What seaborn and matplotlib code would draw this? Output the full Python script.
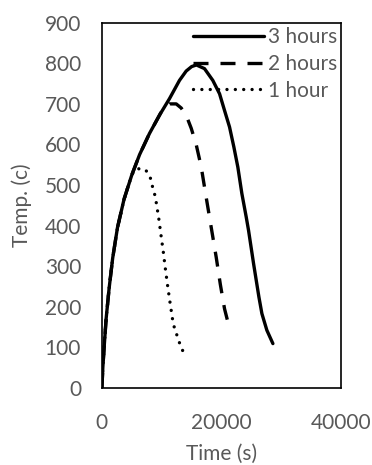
import matplotlib
matplotlib.use("Agg")
import matplotlib.pyplot as plt
import seaborn as sns
import pandas as pd

# Data
t_3h = [0, 150, 370, 700, 1200, 1800, 2600, 3700, 5000, 6300, 7950, 9620, 11300, 12970, 14090,
        15000, 15800, 17150, 18540, 19670, 20500, 21340, 22060, 22730, 23400, 24130, 24520,
        25360, 26250, 26750, 27580, 28590]
T_3h = [0, 50, 100, 170, 245, 320, 395, 465, 525, 575, 627, 672, 713, 758, 781,
        792, 796, 787, 758, 725, 684, 643, 594, 544, 479, 421, 388,
        306, 224, 183, 142, 109]

t_2h = [0, 150, 370, 700, 1200, 1800, 2600, 3700, 5000, 6300, 7950, 9620, 10180, 11300, 12420,
        13250, 14090, 14930, 15760, 16600, 17430, 18270, 19110, 19800, 20500, 21340]
T_2h = [0, 50, 100, 170, 245, 320, 395, 465, 525, 575, 627, 672, 688, 700, 700,
        690, 672, 640, 600, 545, 470, 396, 322, 255, 195, 146]

t_1h = [0, 150, 370, 700, 1200, 1800, 2600, 3700, 5000, 5500, 6160, 7280, 8060, 8400, 8790,
        9070, 9510, 9900, 10290, 10630, 11010, 11410, 11850, 12180, 12690, 13140, 13690]
T_1h = [0, 50, 100, 170, 245, 320, 395, 465, 525, 538, 540, 538, 520, 499, 479,
        458, 417, 374, 332, 291, 249, 208, 165, 144, 124, 103, 86]

labels = ["3 hours", "2 hours", "1 hour"]
x_ticks = [0, 20000, 40000]
y_ticks = [0, 100, 200, 300, 400, 500, 600, 700, 800, 900]

sns.set_theme(style="white")
plt.rcParams["font.family"] = ["Lato", "DejaVu Sans"]

fig = plt.figure(figsize=(3.72, 4.65), dpi=100)
ax = fig.add_axes([0.274, 0.166, 0.643, 0.785])

gray = "#595959"
series = [
    (t_3h, T_3h, "-", "butt"),
    (t_2h, T_2h, (0, (4.5, 3.6)), "butt"),
    (t_1h, T_1h, (0, (0.01, 2.5)), "round"),
]
for (t, T, ls, cap), lab in zip(series, labels):
    df = pd.DataFrame({"Time": t, "Temp": T})
    sns.lineplot(data=df, x="Time", y="Temp", ax=ax, color="black", lw=2.4,
                 linestyle=ls, dash_capstyle=cap, label=lab, sort=False, estimator=None)

ax.set_xlim(0, 40000)
ax.set_ylim(0, 900)
ax.set_xticks(x_ticks)
ax.set_yticks(y_ticks)
ax.tick_params(axis="both", length=0, labelsize=15, labelcolor=gray)
ax.tick_params(axis="x", pad=18)
ax.tick_params(axis="y", pad=15)
for s in ax.spines.values():
    s.set_color("black")
    s.set_linewidth(1.2)
ax.set_xlabel("Time (s)", fontsize=15, color=gray, labelpad=8)
ax.set_ylabel("Temp. (c)", fontsize=15, color=gray, labelpad=9)

leg = ax.legend(loc="upper right", frameon=False, fontsize=15, handlelength=3.4,
                handletextpad=0.2, labelspacing=0.33, borderaxespad=0.1, borderpad=0.1)
for txt in leg.get_texts():
    txt.set_color(gray)

fig.savefig("out.png", dpi=100)
